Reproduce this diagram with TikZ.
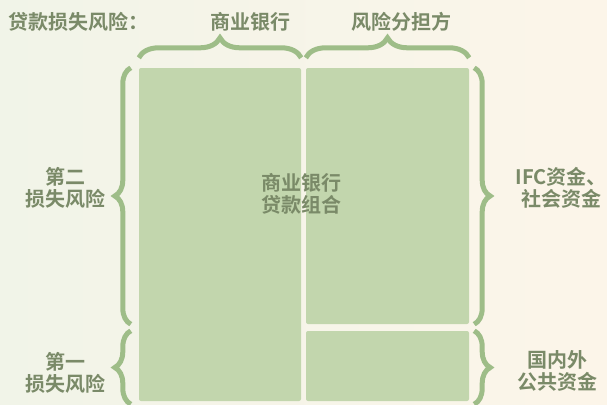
\documentclass[tikz,border=0pt]{standalone}
\usepackage{fontspec}
\newfontfamily\cjk{Noto Sans CJK SC Bold}
\usepackage{tikz}
\usetikzlibrary{decorations.pathreplacing}
\definecolor{bgleft}{HTML}{F1F4E8}
\definecolor{bgright}{HTML}{FCF5E9}
\definecolor{blockgreen}{HTML}{C2D6AD}
\definecolor{bracegreen}{HTML}{9EBD88}
\definecolor{labelgray}{HTML}{7A8A68}

\begin{document}
\begin{tikzpicture}[x=1pt,y=-1pt,
  block/.style={fill=blockgreen,rounded corners=2pt,inner sep=0pt},
  label/.style={text=labelgray,font=\cjk\fontsize{20}{22}\selectfont,align=center,inner sep=0pt},
  hbrace/.style={draw=bracegreen,line width=5pt,decorate,decoration={brace,amplitude=20pt}},
  vbrace/.style={draw=bracegreen,line width=5pt,decorate,decoration={brace,amplitude=16pt}}]
\useasboundingbox (0,0) rectangle (607,404);
\shade[left color=bgleft,right color=bgright] (0,0) rectangle (607,404);
% blocks
  \node[block,minimum width=162pt,minimum height=333pt] (bank) at (220,234.5) {};
  \node[block,minimum width=163pt,minimum height=256pt] (share) at (387.5,196) {};
  \node[block,minimum width=163pt,minimum height=70pt] (first) at (387.5,366) {};
  \node[label] (portfolio) at (301,194) {商业银行\\贷款组合};
% top braces
  \node[label,anchor=west] (title) at (8,22) {贷款损失风险：};
  \node[label] (banklbl) at (250,22) {商业银行};
  \node[label] (sharelbl) at (401,22) {风险分担方};
  \draw[hbrace] ([yshift=10pt]bank.north west) -- ([yshift=10pt]bank.north east);
  \draw[hbrace] ([yshift=10pt]share.north west) -- ([yshift=10pt]share.north east);
% left braces
  \coordinate (ltop) at ([xshift=-8pt]bank.north west);
  \coordinate (lmid) at (ltop |- share.south);
  \coordinate (llow) at (ltop |- first.north);
  \coordinate (lbot) at ([yshift=-3pt]ltop |- first.south);
  \draw[vbrace] (lmid) -- (ltop);
  \draw[vbrace] (lbot) -- (llow);
  \node[label] (second) at (65,188) {第二\\损失风险};
  \node[label] (firstloss) at (65,373) {第一\\损失风险};
% right braces
  \coordinate (rtop) at ([xshift=5pt]share.north east);
  \coordinate (rmid) at (rtop |- share.south);
  \coordinate (rlow) at (rtop |- first.north);
  \coordinate (rbot) at ([yshift=-3pt]rtop |- first.south);
  \draw[vbrace] (rtop) -- (rmid);
  \draw[vbrace] (rlow) -- (rbot);
  \node[label] (ifc) at (561,188) {IFC资金、\\社会资金};
  \node[label] (public) at (557,371) {国内外\\公共资金};
\end{tikzpicture}
\end{document}
